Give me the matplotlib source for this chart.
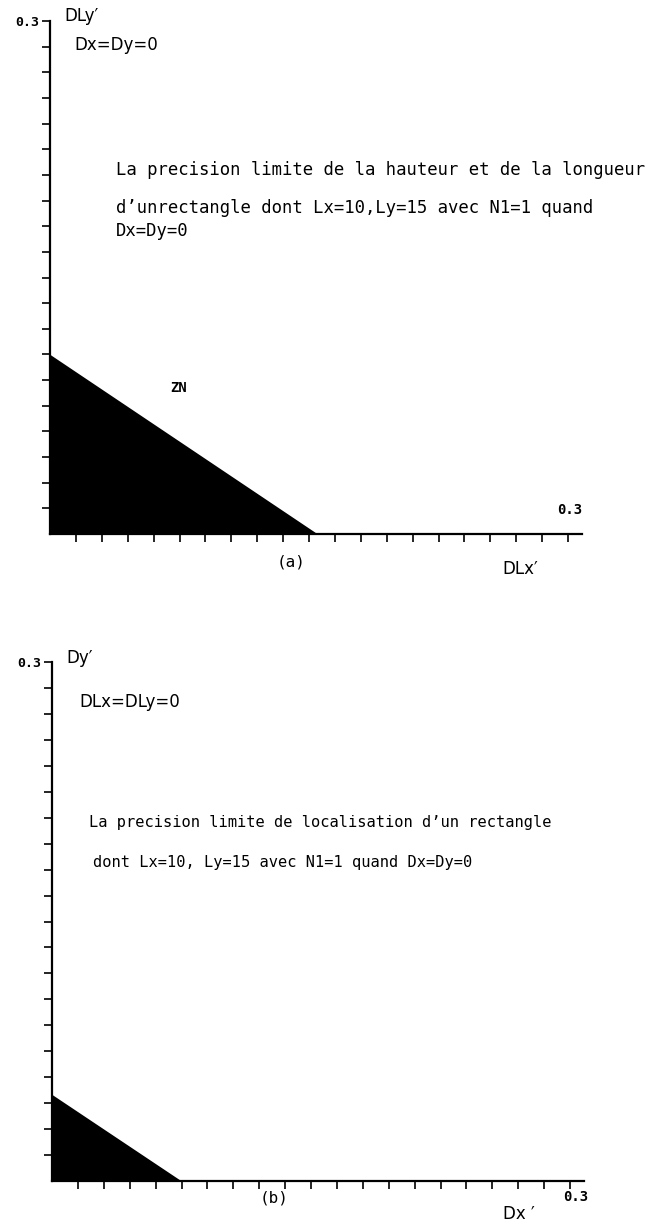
import numpy as np
import matplotlib
matplotlib.use("Agg")
import matplotlib.pyplot as plt

# limite de la zone noire (ZN), en coordonnees reduites
dlx_a = [0.0, 0.155]   # DLx'
dly_a = [0.105, 0.0]   # DLy'
dx_b = [0.0, 0.075]    # Dx'
dy_b = [0.05, 0.0]     # Dy'

xmax = 0.3
tick_step = 0.015

W, H = 659, 1222
fig = plt.figure(figsize=(W / 100, H / 100), dpi=100)

def fpos(x, y):
    # pixels -> fraction de la figure
    return x / W, 1 - y / H

def txt(x, y, s, size=12, mono=True, **kw):
    fx, fy = fpos(x, y)
    fam = "DejaVu Sans Mono" if mono else "DejaVu Sans"
    fig.text(fx, fy, s, fontsize=size, family=fam, va="center", **kw)

def make_axes(left, bottom, right, top, ext=14):
    # l'axe x depasse un peu la graduation 0.3
    l, b = fpos(left, bottom)
    r, t = fpos(right + ext, top)
    ax = fig.add_axes([l, b, r - l, t - b])
    ax.set_xlim(0, xmax * (right - left + ext) / (right - left))
    ax.set_ylim(0, xmax)
    for s in ("top", "right"):
        ax.spines[s].set_visible(False)
    for s in ("left", "bottom"):
        ax.spines[s].set_linewidth(1.6)
    ticks = np.arange(0, xmax + 1e-9, tick_step)
    ax.set_xticks(ticks[1:])
    ax.set_yticks(ticks[1:])
    ax.set_xticklabels([])
    ax.set_yticklabels([""] * (len(ticks) - 2) + ["0.3"],
                       family="DejaVu Sans Mono", fontsize=9.5, fontweight="bold")
    ax.tick_params(direction="out", length=6, width=1.2, pad=2)
    ax.patch.set_alpha(0)
    return ax

# ---- (a) hauteur / longueur ----
ax1 = make_axes(50, 534, 568, 21)
ax1.fill_between(dlx_a, dly_a, 0, color="black", lw=0)

txt(64, 16, "DLy\u2032", 12, mono=False)
txt(74, 45, "Dx=Dy=0", 12, mono=False)
txt(116, 170, "La precision limite de la hauteur et de la longueur", 12.4)
txt(116, 208, "d\u2019unrectangle dont Lx=10,Ly=15 avec N1=1 quand", 12.4)
txt(116, 231, "Dx=Dy=0", 12.4)
txt(170, 388, "ZN", 10, fontweight="bold")
txt(582, 510, "0.3", 10, fontweight="bold", ha="right")
txt(291, 562, "(a)", 11.5, ha="center")
txt(502, 569, "DLx\u2032", 12, mono=False)

# ---- (b) localisation ----
ax2 = make_axes(52, 1181, 570, 662)
ax2.fill_between(dx_b, dy_b, 0, color="black", lw=0)

txt(66, 658, "Dy\u2032", 12, mono=False)
txt(79, 702, "DLx=DLy=0", 12, mono=False)
txt(89, 823, "La precision limite de localisation d\u2019un rectangle", 11.1)
txt(93, 862, "dont Lx=10, Ly=15 avec N1=1 quand Dx=Dy=0", 11.1)
txt(274, 1198, "(b)", 11.5, ha="center")
txt(588, 1197, "0.3", 10, fontweight="bold", ha="right")
txt(503, 1214, "Dx \u2032", 12, mono=False)

fig.savefig("out.png", dpi=100)
